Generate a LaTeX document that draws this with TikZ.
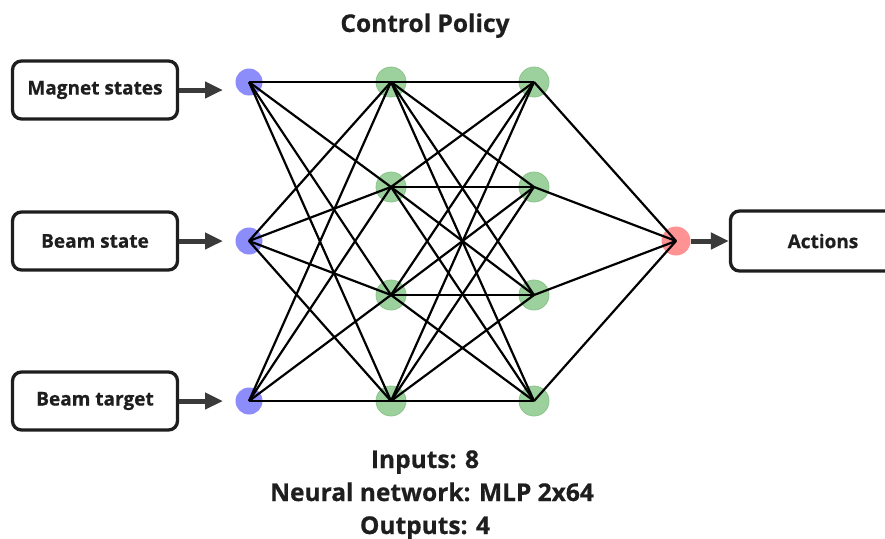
\documentclass[tikz,border=0pt]{standalone}
\usepackage{fontspec}
\setmainfont{Open Sans}[BoldFeatures={FakeBold=0.6}]
\usetikzlibrary{arrows.meta}
\definecolor{inblue}{RGB}{140,140,250}
\definecolor{hidgreen}{RGB}{156,208,156}
\definecolor{hidedge}{RGB}{140,196,140}
\definecolor{outred}{RGB}{255,146,146}
\definecolor{ink}{RGB}{30,30,30}
\definecolor{arrowgray}{RGB}{58,58,58}
\tikzset{
  inneuron/.style={circle,fill=inblue,minimum size=27pt,inner sep=0pt},
  hidneuron/.style={circle,fill=hidgreen,draw=hidedge,line width=0.8pt,minimum size=30pt,inner sep=0pt},
  outneuron/.style={circle,fill=outred,minimum size=29pt,inner sep=0pt},
  iobox/.style={draw=ink,line width=3.3pt,rounded corners=9pt,fill=white,
    text=ink,font=\bfseries\fontsize{19}{22}\selectfont,inner sep=0pt},
  wire/.style={black,line width=2.2pt},
  feed/.style={arrowgray,line width=5pt,-{Triangle[length=18pt,width=16pt]}},
  caption/.style={text=ink,font=\bfseries\fontsize{24.5}{28}\selectfont,inner sep=0pt,anchor=base}
}
\begin{document}
\begin{tikzpicture}[x=1pt,y=-1pt]
\useasboundingbox (0,0) rectangle (885,538);
% layers of neurons
\node[inneuron] (i1) at (249,82) {};
\node[inneuron] (i2) at (249,241) {};
\node[inneuron] (i3) at (249,401) {};
\foreach \k/\yy in {1/82,2/187,3/295,4/401}{
  \node[hidneuron] (a\k) at (391,\yy) {};
  \node[hidneuron] (b\k) at (534,\yy) {};
}
\node[outneuron] (o) at (676,241) {};
% fully connected weights
\foreach \i in {1,2,3}{\foreach \j in {1,...,4}{\draw[wire] (i\i.center) -- (a\j.center);}}
\foreach \i in {1,...,4}{\foreach \j in {1,...,4}{\draw[wire] (a\i.center) -- (b\j.center);}}
\foreach \i in {1,...,4}{\draw[wire] (b\i.center) -- (o.center);}
% inputs and output
\node[iobox,minimum width=165pt,minimum height=58pt] (m) at (95,90) {Magnet states};
\node[iobox,minimum width=165pt,minimum height=58pt] (bs) at (95,241) {Beam state};
\node[iobox,minimum width=165pt,minimum height=58pt] (bt) at (95,401) {Beam target};
\node[iobox,minimum width=185pt,minimum height=60pt] (act) at (823,241) {Actions};
\coordinate (m1) at (223,90);
\coordinate (bs1) at (223,241);
\coordinate (bt1) at (223,401);
\draw[feed] (m.east) -- (m1);
\draw[feed] (bs.east) -- (bs1);
\draw[feed] (bt.east) -- (bt1);
\draw[feed] (o.east) -- (act.west);
% labels
\node[caption] (title) at (425,32) {Control Policy};
\node[caption] (c1) at (425,468) {Inputs: 8};
\node[caption] (c2) at (432,501) {Neural network: MLP 2x64};
\node[caption] (c3) at (425,534) {Outputs: 4};
\end{tikzpicture}
\end{document}
